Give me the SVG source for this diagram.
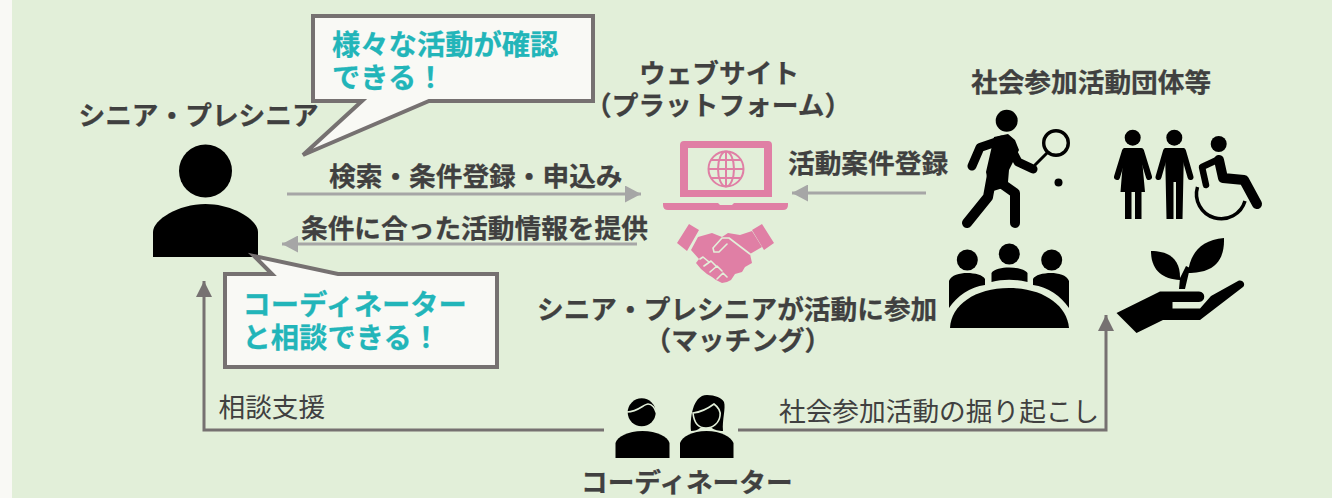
<svg xmlns="http://www.w3.org/2000/svg" width="1332" height="498" viewBox="0 0 1332 498">
<style>
text{font-family:"Noto Sans CJK JP","Noto Sans",sans-serif;fill:#404040;font-size:26.7px;font-weight:700;stroke:#404040;stroke-width:.25}
.r{font-weight:400;stroke:none}
.t{fill:#22b5b9;stroke:#22b5b9;font-size:28.3px}
.call{fill:#f9f9f5;stroke:#767171;stroke-width:4}
.k{fill:#000}
.ks{fill:none;stroke:#000;stroke-linecap:round;stroke-linejoin:round}
.p{fill:#e07fa5}
.cut{fill:none;stroke:#e2efd9;stroke-width:1.6;stroke-linecap:round}
.a1{fill:none;stroke:#a6a6a6;stroke-width:3}
.a2{fill:none;stroke:#767171;stroke-width:3}
</style>
<defs>
<marker id="ma" markerUnits="userSpaceOnUse" markerWidth="17" markerHeight="17" refX="16" refY="8.5" orient="auto"><path d="M0,0L16,8.5L0,17Z" fill="#a6a6a6"/></marker>
<marker id="mb" markerUnits="userSpaceOnUse" markerWidth="17" markerHeight="17" refX="16" refY="8" orient="auto"><path d="M0,0L16,8L0,16Z" fill="#767171"/></marker>
</defs>
<rect width="1332" height="498" fill="#e2efd9"/>
<rect width="12" height="498" fill="#f9f9f5"/>
<g id="connectors">
<path class="a1" d="M287,194H641" marker-end="url(#ma)"/>
<path class="a1" d="M637,244H282" marker-end="url(#ma)"/>
<path class="a1" d="M926,193H792" marker-end="url(#ma)"/>
<path class="a2" d="M604,430H204V281" marker-end="url(#mb)"/>
<path class="a2" d="M738,430H1106V315" marker-end="url(#mb)"/>
</g>
<g id="senior">
<ellipse class="k" cx="205.500" cy="171" rx="26.500" ry="26.500"/>
<path class="k" d="M153,257V232C153,220 178,204 205.500,204C233,204 258,220 258,232V257Z"/>
<text x="78.500" y="125">シニア・プレシニア</text>
</g>
<g id="callout-activity">
<path class="call" d="M313,16H593V101H429L303,155L362,101H313Z"/>
<text class="t" x="332" y="55">様々な活動が確認</text>
<text class="t" x="332" y="88">できる！</text>
</g>
<g id="callout-coordinator">
<path class="call" d="M225,274H272L254,256L338,274H497V367H225Z"/>
<text class="t" x="242.500" y="315">コーディネーター</text>
<text class="t" x="242.500" y="348">と相談できる！</text>
</g>
<g id="labels">
<text x="329" y="186">検索・条件登録・申込み</text>
<text x="301" y="238">条件に合った活動情報を提供</text>
<text x="788" y="173">活動案件登録</text>
<text x="537" y="319">シニア・プレシニアが活動に参加</text>
<text x="644.500" y="350">（マッチング）</text>
<text class="r" x="218.500" y="417">相談支援</text>
<text class="r" x="779" y="421">社会参加活動の掘り起こし</text>
</g>
<g id="website">
<text x="639" y="83">ウェブサイト</text>
<text x="585" y="115">（プラットフォーム）</text>
<path class="p" fill-rule="evenodd" d="M684,141H768Q772,141 772,145V197H680V145Q680,141 684,141ZM688,148V190H764V148Z"/>
<path class="p" d="M663,203H718L720,205H732L734,203H788V205Q788,210 783,210H668Q663,210 663,205Z"/>
<g fill="none" stroke="#e07fa5" stroke-width="2">
<circle cx="726" cy="169" r="17.500"/>
<ellipse cx="726" cy="169" rx="8" ry="17.500"/>
<path d="M726,151.500V186.500M708.500,169H743.500M711,160H741M711,178H741"/>
</g>
</g>
<g id="matching">
<path class="p" d="M689,224L699,230L687,251L677,243ZM762,224L774,243L764,250L752,230Z"/>
<path class="p" d="M698,237L712,233L722,237L728,233L740,235L752,231L762,247L750,254L752,263L745,267L742,272L735,274L731,280L727,282L722,283L716,280L712,277L707,274L701,269L696,263L699,259L691,250Z"/>
<path fill="none" stroke="#e2efd9" stroke-width="1.600" stroke-linecap="round" stroke-linejoin="round" d="M750,254L729,238H722L713,248L714,252L719,252L727,244M700,259L703,257L709,262M704,266L711,261L716,266M710,272L717,266L722,271M717,279L723,273L727,277"/>
</g>
<g id="org">
<text x="971" y="92">社会参加活動団体等</text>
<g id="tennis">
<circle class="k" cx="1006.700" cy="120.700" r="11"/>
<path class="ks" stroke-width="9" d="M1002,140L980,147.500L972,166M1008,143L1018,162L1033,169"/>
<path class="k" d="M994,137L1008,134L1015,140L1019,150L1009,170L1008,182L1003,188L990,192L986,172Z"/>
<path class="ks" stroke-width="10" d="M992,175L988,197L967,223M998,181L1015,193V223"/>
<circle cx="1056" cy="143" r="12.300" fill="none" stroke="#000" stroke-width="3.400"/>
<path class="ks" stroke-width="3" d="M1035,165L1047,153"/>
<circle class="k" cx="1058.500" cy="182.500" r="4"/>
</g>
<g id="diversity">
<circle class="k" cx="1132.700" cy="137.700" r="8"/>
<path class="ks" stroke-width="6" d="M1125,151L1117,177M1141,151L1149,177"/>
<path class="k" d="M1124,148H1141L1145,192H1120.500ZM1125,190H1131.500V219H1125ZM1135,190H1141.500V219H1135Z"/>
<circle class="k" cx="1174.300" cy="137.700" r="8"/>
<path class="ks" stroke-width="6" d="M1166,151L1158.500,177M1183,151L1190.500,177"/>
<path class="k" d="M1165,148H1184L1182.500,219H1176V182H1173.500V219H1166.500Z"/>
<circle class="k" cx="1218.700" cy="144" r="8"/>
<path class="ks" stroke-width="10" d="M1219,160L1223,178L1244,180L1257,204"/>
<path class="ks" stroke-width="6.500" d="M1217,160L1202,167L1206,185"/>
<path fill="none" stroke="#000" stroke-width="3.500" d="M1197.500,187A24,24 0 0 0 1245,201"/>
</g>
<g id="meeting">
<circle class="k" cx="967.300" cy="260" r="10.500"/>
<circle class="k" cx="1009.300" cy="254" r="10.500"/>
<circle class="k" cx="1051.700" cy="260" r="10.500"/>
<path class="k" d="M950,328C951,305 975,288 1009,288C1043,288 1067,305 1069,328Z"/>
<path class="k" d="M949,308V281C951,275 960,273 967,273C975,273 983,275 985,279V285C970,287 957,296 949,308Z"/>
<path class="k" d="M1069,308V281C1067,275 1058,273 1051,273C1043,273 1035,275 1033,279V285C1048,287 1061,296 1069,308Z"/>
<path class="k" d="M991.500,282V273C994,269 1002,267.500 1009,267.500C1017,267.500 1025,269 1027.500,273V282C1015,279 1003,279 991.500,282Z"/>
</g>
<g id="plant">
<path class="k" d="M1116.500,313L1160,291.500H1199C1206,291.500 1206,302 1199,302H1172.500V308.500H1200L1211,296L1238,281C1243,279 1246,285 1243,287L1200,320H1163L1136.500,333Z"/>
<path class="k" d="M1151,251C1168,251 1181,258 1180,280C1162,279 1151,270 1151,251Z"/>
<path class="k" d="M1224,238C1200,240 1190,254 1188,273C1208,273 1225,266 1224,238Z"/>
<path class="k" d="M1179,289H1185L1189,272L1194,270L1186,266L1180,278Z"/>
</g>
</g>
<g id="coordinator">
<circle class="k" cx="641.700" cy="412.300" r="14"/>
<path class="cut" d="M627,412C638,412 644,404 648,404C652,404 655,408 656,412"/>
<path class="k" d="M615.500,458V443C617,437 628,431 642.500,431C657,431 668,437 669.500,443V458Z"/>
<path class="k" d="M691,431C690,420 692,395 707,395C715,395 722,398 724,402C726,408 722,420 723,431C719,431 714,430 712,428L700,428C698,430 695,431 691,431Z"/>
<path class="cut" d="M693,413C702,412 710,407 714,404C718,407 721,411 720,416C719,423 713,428 706,428C699,428 694,423 693,413Z"/>
<path class="k" d="M680,458V443C682,437 692,431 706.500,431C721,431 731,437 733.500,443V458Z"/>
<text x="581" y="492">コーディネーター</text>
</g>
</svg>
